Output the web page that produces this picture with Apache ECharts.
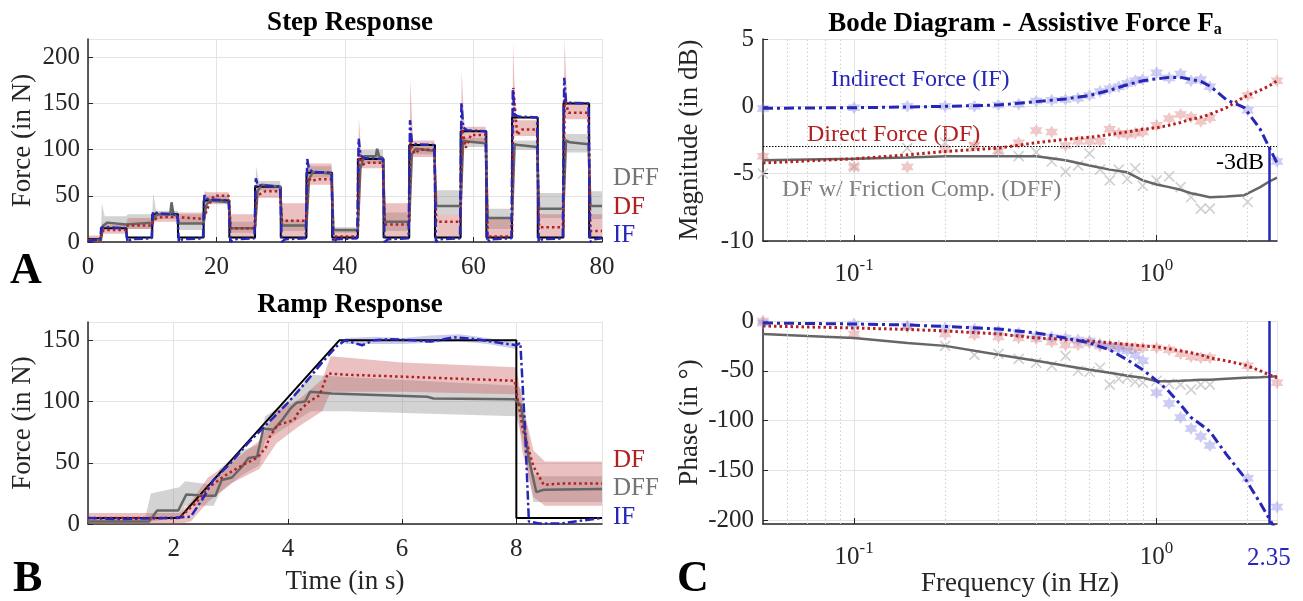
<!DOCTYPE html>
<html>
<head>
<meta charset="utf-8">
<script src="https://cdn.jsdelivr.net/npm/echarts/dist/echarts.min.js"></script>
<style>
html, body { margin: 0; padding: 0; background: #fff; }
#chart { width: 1303px; height: 601px; }
</style>
</head>
<body>
<div id="chart"></div>
<script>
// ---- Step response (A): one entry per step k ----
var stepOn   = [2, 10, 18, 26, 34, 42, 50, 58, 66, 74];
var stepRef  = [15, 30, 45, 60, 75, 90, 105, 120, 135, 150];
var stepLow  = 5;
var ifPeak   = [16, 33, 51, 69, 90, 112, 132, 151, 166, 178];
var ifSettle = [15, 31, 47, 62, 79, 94, 108, 124, 138, 152];
var dfSpike  = [12, 24, 27, 50, 70, 95, 108, 125, 167, 155];
var dfMid    = [13, 26, 40, 52, 66, 84, 96, 102, 116, 140];
var dfHigh   = [13, 27, 50, 55, 68, 86, 100, 116, 122, 140];
var dfLow    = [18, 25, 15, 23, 6, 19, 22, 6, 16, 12];
var dffMid   = [18, 28, 40, 55, 68, 80, 95, 110, 106, 110];
var dffHigh  = [21, 30, 45, 62, 76, 93, 101, 109, 105, 108];
var dffLow   = [21, 20, 15, 18, 13, 22, 39, 26, 36, 39];
var dffBump  = [null, 43, null, null, null, 101, null, null, null, null];
// shaded spread (lower / upper) while high and while low
var dfBandHiLo  = [9, 22, 42, 48, 62, 80, 92, 108, 115, 133];
var dfBandHiHi  = [19, 32, 54, 62, 85, 93, 110, 125, 132, 152];
var dfBandSpike = [20, 32, 55, 68, 82, 135, 176, 185, 216, 220];
var dfBandLoLo  = [14, 20, 4, 4, 3, 4, 4, 4, 4, 4];
var dfBandLoHi  = [26, 32, 30, 42, 12, 42, 30, 26, 30, 30];
var dffBandHiLo  = [16, 25, 41, 56, 70, 85, 95, 103, 100, 97];
var dffBandHiHi  = [28, 34, 50, 66, 82, 100, 106, 113, 110, 117];
var dffBandSpike = [42, 53, 50, 82, 85, 100, 106, 113, 110, 117];
var dffBandLoLo  = [14, 13, 10, 12, 10, 12, 30, 14, 26, 25];
var dffBandLoHi  = [30, 30, 22, 24, 16, 32, 56, 36, 53, 55];

// ---- Ramp response (B) ----
var rampRef = [[0.5, 5], [2.1, 5], [4.9, 150], [8.0, 150], [8.0, 5], [9.5, 5]];
var rampIF = [[0.5,5],[1.0,4],[1.5,4.5],[2.0,5],[2.3,6],[2.5,20],[2.7,36],[3.0,50],[3.3,66],[3.6,80],[4.0,99],[4.3,115],[4.6,132],[4.85,145],[5.0,150],[5.15,148],[5.3,146],[5.5,150],[5.8,151],[6.2,150],[6.5,149],[6.9,152.5],[7.3,151],[7.7,148],[8.0,146],[8.07,148],[8.15,80],[8.22,2],[8.4,0.5],[8.8,0.5],[9.1,2.5],[9.5,5]];
var rampDF = [[0.5,5],[2.1,5],[2.22,10],[2.4,18],[2.59,29],[2.88,39],[3.02,43],[3.24,49],[3.46,54],[3.61,62],[3.68,71],[3.82,81],[3.97,83],[4.11,85],[4.19,92],[4.37,100],[4.55,105],[4.7,123],[4.99,122],[6.22,120],[7.97,117],[8.11,78],[8.3,47],[8.48,32],[8.77,33],[9.5,33]];
var rampDFF = [[0.5,2],[1.57,2],[1.71,11],[2.08,11],[2.22,24],[2.59,23],[2.73,23],[2.84,36],[3.02,38],[3.2,47],[3.31,54],[3.46,55],[3.57,78],[3.75,77],[3.9,85],[4.04,94],[4.15,99],[4.3,100],[4.39,108],[4.77,106.5],[6.44,104],[6.55,102.5],[7.97,102],[8.08,97],[8.22,53],[8.35,26],[8.48,28],[9.5,28.5]];
var rampDFBand = [[0.5,0,9],[2.1,0,9],[2.3,2,18],[2.6,18,38],[3.0,33,50],[3.5,45,68],[3.8,66,92],[4.2,80,102],[4.6,92,118],[4.75,108,137],[6.0,108,132],[8.0,106,128],[8.1,60,100],[8.3,22,60],[8.5,15,51],[9.5,15,51]];
var rampDFFBand = [[0.5,0,5],[1.5,0,5],[1.6,2,25],[2.1,5,30],[2.2,15,35],[2.7,15,32],[2.8,25,45],[3.2,40,60],[3.5,48,65],[3.6,68,88],[4.0,80,100],[4.4,92,122],[5.0,92,120],[8.0,88,113],[8.1,70,110],[8.3,18,40],[8.5,18,39],[9.5,18,39]];
var rampIFBand = [[5.0,147,152],[5.5,147,153],[6.0,147,152],[6.5,148,154],[7.0,149,155],[7.5,147,152],[8.0,143,148]];

// ---- Bode (C) ----
var freqLine = [0.05, 0.07, 0.1, 0.15, 0.2, 0.3, 0.4, 0.5, 0.6, 0.7, 0.8, 0.9, 1.0, 1.1, 1.2, 1.3, 1.4, 1.5, 1.7, 1.95, 2.2, 2.35, 2.5];
var ifMag  = [-0.15, -0.12, -0.1, -0.05, 0, 0.1, 0.35, 0.55, 0.8, 1.2, 1.6, 1.9, 2.05, 2.15, 2.15, 2.0, 1.85, 1.5, 0.5, -0.1, -1.7, -3, -4.2];
var dfMag  = [-4.2, -4.05, -3.9, -3.6, -3.35, -3.1, -2.7, -2.45, -2.3, -2.1, -1.9, -1.7, -1.6, -1.4, -1.2, -0.95, -0.8, -0.6, -0.1, 0.7, 1.2, 1.5, 1.9];
var dffMag = [-4.0, -3.95, -3.9, -3.8, -3.7, -3.7, -3.7, -4.0, -4.4, -4.7, -4.9, -5.5, -5.8, -6.0, -6.2, -6.45, -6.6, -6.75, -6.7, -6.6, -6.0, -5.6, -5.3];
var ifPh  = [-2, -2.5, -3, -4, -5.5, -8, -12, -17, -22, -29, -39, -49, -60, -71, -84, -97, -104, -111, -134, -157, -183, -198, -212];
var dfPh  = [-5, -6, -7, -8.5, -10, -13, -17, -18.5, -20, -22, -23.5, -25, -26, -28, -30, -32, -34, -37, -40, -44, -50, -54, -57];
var dffPh = [-13, -15, -17, -22, -25, -34, -40, -45, -49, -52, -55, -57, -60.5, -60.5, -60, -59.5, -59, -59, -58, -57, -56.5, -56, -55.5];

var freqPts = [0.05, 0.1, 0.15, 0.2, 0.25, 0.3, 0.35, 0.4, 0.45, 0.5, 0.55, 0.6, 0.65, 0.7, 0.75, 0.8, 0.85, 0.9, 1.0, 1.1, 1.2, 1.3, 1.4, 1.5, 2.0, 2.5];
var ifMagPts  = [-0.17, -0.1, 0, 0, 0, 0.1, 0.15, 0.4, 0.45, 0.5, 0.6, 0.8, 1.1, 1.3, 1.45, 1.7, 1.9, 2.0, 2.5, 2.1, 2.4, 1.9, 2.0, 1.45, -0.3, -4.1];
var dfMagPts  = [-3.7, -4.5, -4.5, -3.2, -2.9, -3.3, -2.7, -1.8, -1.9, -2.9, -2.6, -2.6, -2.6, -1.7, -2.0, -2.1, -2.0, -1.9, -1.4, -0.9, -0.6, -0.8, -1.1, -0.85, 0.8, 1.9];
var dffMagPts = [-5.0, -4.5, -3.1, -2.7, -3.0, -3.3, -3.7, -3.4, -4.1, -4.85, -4.4, -3.5, -4.7, -5.5, -4.7, -5.4, -4.6, -5.9, -5.5, -5.2, -6.0, -6.75, -7.6, -7.6, -7.1, null];
var ifPhPts  = [-2, -3, -5, -7, -8, -10, -12, -15, -16, -17, -19, -20, -23, -25, -28, -30, -34, -40, -72, -83, -97, -108, -116, -125, -158, -187];
var dfPhPts  = [0, -13, -6, -13, -14, -16, -17, -18, -21, -24, -24, -22, -25, -25, -25, -26, -27, -27, -27, -29, -33, -36, -37, -37, -45, -62];
var dffPhPts = [null, null, null, -25, -34, -33, -38, -42, -45, -35, -50, -51, -47, -64, -58, -57, -61, -62, -60, -63, -64, -69, -64, -64, null, null];
var minorFreq = [0.06, 0.07, 0.08, 0.09, 0.2, 0.3, 0.4, 0.5, 0.6, 0.7, 0.8, 0.9, 2];
var bandwidth = 2.35;

var FONT = '"Liberation Serif", "Times New Roman", serif';
var INK = '#262626';
var C_IF = '#2626b8', C_DF = '#b22020', C_DFF = '#666666';
var TICK = 25, NAME = 27;

function buildRef() {
	var pts = [[0, 3]];
	stepOn.forEach(function (s, k) { pts.push([s, stepRef[k]], [s + 4, stepLow]); });
	pts.push([80, stepLow]);
	return pts;
}
function buildIF() {
	var pts = [[0, 1], [1.9, 3]];
	stepOn.forEach(function (s, k) {
		var h = stepRef[k];
		pts.push([s, 3], [s + 0.12, ifPeak[k]], [s + 0.4, ifSettle[k]], [s + 1, h + 1], [s + 3.9, h], [s + 4.15, 0], [s + 4.7, 3], [Math.min(s + 7.9, 80), 4]);
	});
	return pts;
}
function buildDF() {
	var pts = [[0, 2]], prev = 2;
	stepOn.forEach(function (s, k) {
		var next = Math.min(s + 8, 80);
		pts.push([s, prev], [s + 0.2, dfSpike[k]], [s + 0.8, dfMid[k]], [s + 1.6, dfHigh[k]], [s + 3.9, dfHigh[k]], [s + 4.2, dfLow[k]], [next, dfLow[k]]);
		prev = dfLow[k];
	});
	return pts;
}
function buildDFF() {
	var pts = [[0, 2]], prev = 2;
	stepOn.forEach(function (s, k) {
		var next = Math.min(s + 8, 80);
		pts.push([s, prev], [s + 0.4, dffMid[k]], [s + 1, dffHigh[k]]);
		if (dffBump[k] !== null) pts.push([s + 2.8, dffHigh[k]], [s + 3.0, dffBump[k]], [s + 3.3, dffHigh[k]]);
		pts.push([s + 3.9, dffHigh[k] - 2], [s + 4.2, dffLow[k]], [next, dffLow[k]]);
		prev = dffLow[k];
	});
	return pts;
}
function buildBand(hiLo, hiHi, spike, loLo, loHi, first) {
	var pts = [[0, first[0], first[1]]], pl = first[0], ph = first[1];
	stepOn.forEach(function (s, k) {
		var next = Math.min(s + 8, 80);
		pts.push([s, pl, ph], [s + 0.15, hiLo[k], spike[k]], [s + 0.6, hiLo[k], hiHi[k]], [s + 3.9, hiLo[k], hiHi[k]], [s + 4.2, loLo[k], loHi[k]], [next, loLo[k], loHi[k]]);
		pl = loLo[k]; ph = loHi[k];
	});
	return pts;
}
function pair(xs, ys) {
	var out = [];
	xs.forEach(function (x, i) { if (ys[i] !== null) out.push([x, ys[i]]); });
	return out;
}

// shaded spread drawn as one polygon through the axis scales
function band(data, gi, color, z) {
	return {
		type: 'custom', xAxisIndex: gi, yAxisIndex: gi, data: [[data[0][0], data[0][1]]], silent: true, z: z, clip: true,
		renderItem: function (params, api) {
			var top = data.map(function (d) { return api.coord([d[0], d[2]]); });
			var bot = data.map(function (d) { return api.coord([d[0], d[1]]); }).reverse();
			return { type: 'polygon', shape: { points: top.concat(bot) }, style: { fill: color } };
		}
	};
}
function line(data, gi, color, type, width, z, step) {
	return {
		type: 'line', xAxisIndex: gi, yAxisIndex: gi, data: data, showSymbol: false, silent: true, z: z,
		step: step || false, animation: false,
		lineStyle: { color: color, type: type, width: width, cap: 'butt' }
	};
}
var STAR = 'path://M50,0 L63,25 93,25 78,50 93,75 63,75 50,100 37,75 7,75 22,50 7,25 37,25 Z';
var CROSS = 'path://M0,0 L10,10 M10,0 L0,10';
function marks(data, gi, color, cross) {
	return {
		type: 'scatter', xAxisIndex: gi, yAxisIndex: gi, data: data, silent: true, z: 2,
		symbol: cross ? CROSS : STAR, symbolSize: cross ? 10 : 13,
		itemStyle: cross ? { color: 'none', borderColor: color, borderWidth: 1.6 } : { color: color }
	};
}
function minorGrid(gi) {
	return {
		type: 'line', xAxisIndex: gi, yAxisIndex: gi, data: [], z: 1,
		markLine: {
			silent: true, symbol: 'none', animation: false, label: { show: false },
			lineStyle: { color: '#cfcfcf', type: [1.5, 2.5], width: 1 },
			data: minorFreq.map(function (f) { return { xAxis: f }; })
		}
	};
}

function tickLabel(margin, extra) {
	var l = { color: INK, fontFamily: FONT, fontSize: TICK, margin: margin };
	for (var key in extra) l[key] = extra[key];
	return l;
}
function valueAxis(gi, extra) {
	var ax = {
		type: 'value', gridIndex: gi,
		axisLine: { show: true, onZero: false, lineStyle: { color: INK, width: 1.5 } },
		axisTick: { show: true, inside: true, length: 5, lineStyle: { color: INK } },
		splitLine: { show: true, lineStyle: { color: '#e4e4e4', width: 1 } },
		axisLabel: tickLabel(10, {}),
		nameTextStyle: { color: INK, fontFamily: FONT, fontSize: NAME }
	};
	for (var key in extra) ax[key] = extra[key];
	return ax;
}
var decadeLabel = {
	color: INK, fontFamily: FONT, fontSize: TICK, margin: 16, showMinLabel: false, showMaxLabel: false,
	formatter: function (v) {
		if (Math.abs(v - 0.1) < 1e-6) return '{b|10}{s|-1}';
		if (Math.abs(v - 1) < 1e-6) return '{b|10}{s|0}';
		return '';
	},
	rich: {
		b: { fontFamily: FONT, fontSize: TICK, color: INK },
		s: { fontFamily: FONT, fontSize: 17, color: INK, padding: [0, 0, 18, 0] }
	}
};
function logAxis(gi, extra) {
	var ax = {
		type: 'log', logBase: 10, gridIndex: gi, min: 0.05, max: 2.5,
		axisLine: { show: true, onZero: false, lineStyle: { color: INK, width: 1.5 } },
		axisTick: { show: true, inside: true, length: 6, lineStyle: { color: INK } },
		splitLine: { show: true, lineStyle: { color: '#e4e4e4', width: 1 } },
		axisLabel: decadeLabel,
		nameTextStyle: { color: INK, fontFamily: FONT, fontSize: NAME }
	};
	for (var key in extra) ax[key] = extra[key];
	return ax;
}

var titleStyle = { fontFamily: FONT, fontSize: 27, fontWeight: 'bold', color: '#000',
	rich: { sub: { fontFamily: FONT, fontSize: 16, fontWeight: 'bold', color: '#000', padding: [12, 0, 0, 0] } } };

function txt(t, x, y, color, size, bold) {
	return { type: 'text', x: x, y: y, silent: true,
		style: { text: t, fill: color, font: (bold ? 'bold ' : '') + size + 'px ' + FONT, verticalAlign: 'middle', align: 'left' } };
}

var chart = echarts.init(document.getElementById('chart'));
chart.setOption({
	animation: false,
	backgroundColor: '#fff',
	title: [
		{ text: 'Step Response', left: 345, top: 5, textAlign: 'center', textStyle: titleStyle },
		{ text: 'Ramp Response', left: 345, top: 287, textAlign: 'center', textStyle: titleStyle },
		{ text: 'Bode Diagram - Assistive Force F{sub|a}', left: 1020, top: 5, textAlign: 'center', textStyle: titleStyle }
	],
	grid: [
		{ left: 88, right: 701, top: 39, bottom: 359 },
		{ left: 88, right: 701, top: 322, bottom: 77 },
		{ left: 763, right: 26, top: 39, bottom: 360 },
		{ left: 763, right: 26, top: 321, bottom: 77 }
	],
	xAxis: [
		valueAxis(0, { min: 0, max: 80, interval: 20, axisLabel: tickLabel(13, {}) }),
		valueAxis(1, { min: 0.5, max: 9.5, splitNumber: 4, name: 'Time (in s)', nameLocation: 'middle', nameGap: 44,
			axisLabel: tickLabel(13, { showMinLabel: false, showMaxLabel: false }) }),
		logAxis(2, {}),
		logAxis(3, { name: 'Frequency (in Hz)', nameLocation: 'middle', nameGap: 44 })
	],
	yAxis: [
		valueAxis(0, { min: 0, max: 220, interval: 50, name: 'Force (in N)', nameLocation: 'middle', nameGap: 52,
			axisLabel: tickLabel(8, { showMaxLabel: false }) }),
		valueAxis(1, { min: 0, max: 165, splitNumber: 3, name: 'Force (in N)', nameLocation: 'middle', nameGap: 52,
			axisLabel: tickLabel(8, { showMaxLabel: false }) }),
		valueAxis(2, { min: -10, max: 5, interval: 5, name: 'Magnitude (in dB)', nameLocation: 'middle', nameGap: 60,
			axisLabel: tickLabel(9, {}) }),
		valueAxis(3, { min: -204, max: 0, splitNumber: 4, name: 'Phase (in °)', nameLocation: 'middle', nameGap: 60,
			axisLabel: tickLabel(9, { showMinLabel: false }) })
	],
	series: [
		// A
		band(buildBand(dffBandHiLo, dffBandHiHi, dffBandSpike, dffBandLoLo, dffBandLoHi, [0, 5]), 0, 'rgba(140,140,140,0.38)', 1),
		band(buildBand(dfBandHiLo, dfBandHiHi, dfBandSpike, dfBandLoLo, dfBandLoHi, [0, 7]), 0, 'rgba(200,90,90,0.38)', 1),
		line(buildRef(), 0, '#000', 'solid', 2, 3, 'end'),
		line(buildDFF(), 0, C_DFF, 'solid', 2.5, 4),
		line(buildDF(), 0, C_DF, [2.5, 3], 2.5, 5),
		line(buildIF(), 0, C_IF, [9, 3, 2.5, 3], 2.5, 6),
		// B
		band(rampDFFBand, 1, 'rgba(140,140,140,0.38)', 1),
		band(rampDFBand, 1, 'rgba(200,90,90,0.38)', 1),
		band(rampIFBand, 1, 'rgba(110,110,210,0.35)', 1),
		line(rampRef, 1, '#000', 'solid', 2, 3),
		line(rampDFF, 1, C_DFF, 'solid', 2.5, 4),
		line(rampDF, 1, C_DF, [2.5, 3], 2.5, 5),
		line(rampIF, 1, C_IF, [9, 3, 2.5, 3], 2.5, 6),
		// C magnitude
		minorGrid(2),
		marks(pair(freqPts, dffMagPts), 2, '#c4c4c4', true),
		marks(pair(freqPts, dfMagPts), 2, 'rgba(225,140,140,0.6)'),
		marks(pair(freqPts, ifMagPts), 2, 'rgba(140,140,230,0.55)'),
		line(pair(freqLine, dffMag), 2, C_DFF, 'solid', 2.5, 4),
		line(pair(freqLine, dfMag), 2, C_DF, [2.5, 3], 3, 5),
		(function () {
			var s = line(pair(freqLine, ifMag), 2, C_IF, [10, 4, 3, 4], 3, 6);
			s.markLine = {
				silent: true, symbol: 'none', animation: false, label: { show: false },
				data: [
					{ yAxis: -3, lineStyle: { color: '#000', type: [1.5, 1.5], width: 1 } },
					[{ coord: [bandwidth, -10], lineStyle: { color: C_IF, type: 'solid', width: 2.5 } }, { coord: [bandwidth, -3] }]
				]
			};
			return s;
		})(),
		// C phase
		minorGrid(3),
		marks(pair(freqPts, dffPhPts), 3, '#c4c4c4', true),
		marks(pair(freqPts, dfPhPts), 3, 'rgba(225,140,140,0.6)'),
		marks(pair(freqPts, ifPhPts), 3, 'rgba(140,140,230,0.55)'),
		line(pair(freqLine, dffPh), 3, C_DFF, 'solid', 2.5, 4),
		line(pair(freqLine, dfPh), 3, C_DF, [2.5, 3], 3, 5),
		(function () {
			var s = line(pair(freqLine, ifPh), 3, C_IF, [10, 4, 3, 4], 3, 6);
			s.markLine = {
				silent: true, symbol: 'none', animation: false,
				data: [{ xAxis: bandwidth, lineStyle: { color: C_IF, type: 'solid', width: 2.5 },
					label: { show: true, position: 'start', formatter: '2.35', color: C_IF, fontFamily: FONT, fontSize: TICK, distance: 22 } }]
			};
			return s;
		})()
	],
	graphic: [
		txt('DFF', 613, 178, '#747474', 25), txt('DF', 613, 207, C_DF, 25), txt('IF', 613, 235, C_IF, 25),
		txt('DF', 613, 460, C_DF, 25), txt('DFF', 613, 488, '#747474', 25), txt('IF', 613, 517, C_IF, 25),
		txt('A', 10, 272, '#000', 44, true), txt('B', 13, 580, '#000', 44, true), txt('C', 677, 580, '#000', 44, true),
		txt('Indirect Force (IF)', 831, 80, C_IF, 24), txt('Direct Force (DF)', 807, 135, C_DF, 24),
		txt('DF w/ Friction Comp. (DFF)', 782, 190, '#808080', 24), txt('-3dB', 1216, 163, '#000', 24)
	]
});
</script>
</body>
</html>
